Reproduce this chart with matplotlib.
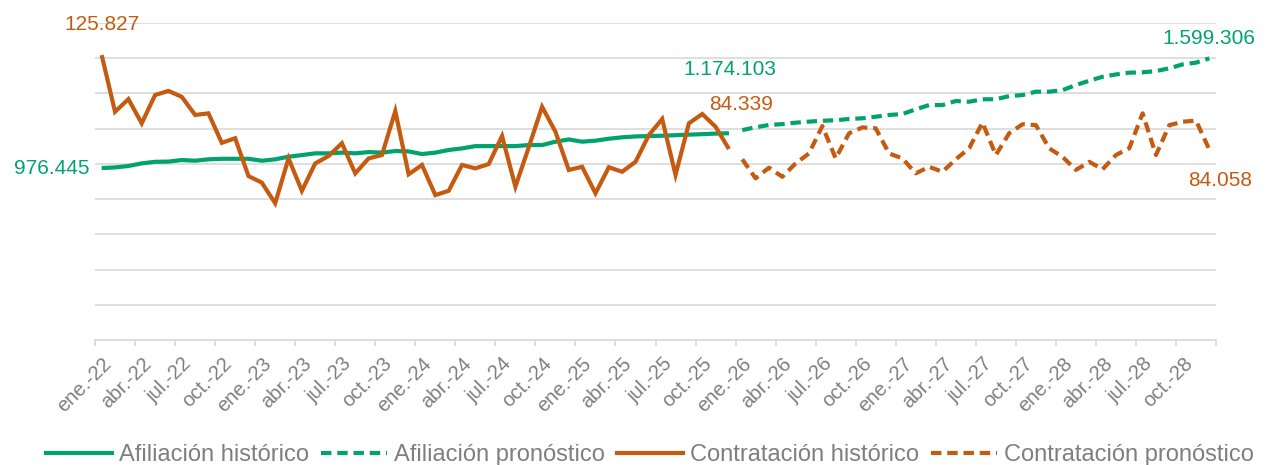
import matplotlib
matplotlib.use("Agg")
import matplotlib.pyplot as plt
from matplotlib.lines import Line2D

plt.rcParams["font.family"] = ["Liberation Sans", "DejaVu Sans"]

# monthly categories ene-22 .. dic-28
meses = ["ene.", "feb.", "mar.", "abr.", "may.", "jun.",
         "jul.", "ago.", "sep.", "oct.", "nov.", "dic."]
anios = ["22", "23", "24", "25", "26", "27", "28"]
categorias = [m + "-" + a for a in anios for m in meses]

afil_hist = [976445, 980000, 988000, 1003000, 1012000, 1013000, 1022000, 1018000,
             1026000, 1029000, 1029000, 1029000, 1018000, 1026000, 1041000, 1050000,
             1060000, 1060000, 1064000, 1060000, 1067000, 1064000, 1073000, 1071000,
             1056000, 1064000, 1079000, 1088000, 1101000, 1101000, 1101000, 1101000,
             1107000, 1107000, 1126000, 1139000, 1126000, 1132000, 1143000, 1151000,
             1156000, 1158000, 1160000, 1163000, 1166000, 1169000, 1172000, 1174103]
afil_pron = [1192000, 1208000, 1221000, 1226000, 1234000, 1240000, 1245000, 1248000,
             1255000, 1259000, 1268000, 1278000, 1283000, 1310000, 1334000, 1334000,
             1357000, 1353000, 1367000, 1367000, 1385000, 1391000, 1410000, 1410000,
             1419000, 1448000, 1472000, 1495000, 1508000, 1518000, 1520000, 1527000,
             1543000, 1565000, 1575000, 1599306]

contr_hist = [125827, 100800, 106400, 95700, 108200, 110000, 107400, 99400,
              100100, 87100, 89100, 72400, 69500, 60400, 80200, 65900,
              78000, 81250, 86900, 73600, 80200, 81700, 101100, 73200,
              77300, 64000, 65900, 77300, 75800, 77700, 90100, 67700,
              85100, 103000, 92000, 75100, 76500, 64800, 76300, 74300,
              78700, 90500, 97600, 72900, 95700, 99800, 94200, 84339]
contr_pron = [79800, 71400, 76100, 72100, 78000, 82400, 94500, 80200,
              91300, 93900, 93500, 82400, 80200, 73600, 76500, 74300,
              79800, 84700, 96000, 81700, 91300, 95300, 94900, 84650,
              80900, 75100, 78700, 75400, 81700, 84700, 100100, 81700,
              94900, 96400, 96900, 84058]

verde = "#00A36E"
naranja = "#C55A11"
gris = "#7F7F7F"

n_hist = len(afil_hist)
x_hist = list(range(n_hist))
x_pron = list(range(n_hist, n_hist + len(afil_pron)))

fig = plt.figure(figsize=(12.72, 4.65), dpi=100)
ax = fig.add_axes([0.0747, 0.2688, 0.8813, 0.6817])
ax2 = ax.twinx()

lw = 3.0
dash = (2.5, 1.4)
ax.plot(x_hist, afil_hist, color=verde, lw=lw, solid_capstyle="butt", zorder=3)
ax.plot(x_pron, afil_pron, color=verde, lw=lw, ls=(0, dash), zorder=3)
ax2.plot(x_hist, contr_hist, color=naranja, lw=lw, solid_capstyle="butt",
         solid_joinstyle="miter", zorder=4)
ax2.plot(x_pron, contr_pron, color=naranja, lw=lw, ls=(0, dash), zorder=4)

ax.set_xlim(-0.5, len(categorias) - 0.5)
ax.set_ylim(0, 1800000)
ax2.set_ylim(0, 140000)
ax.set_yticks(range(0, 1800001, 200000))
ax.yaxis.grid(True, color="#D9D9D9", lw=1.2)
ax.set_axisbelow(True)
ax.tick_params(axis="y", left=False, labelleft=False)
ax2.tick_params(axis="y", right=False, labelright=False)

for a in (ax, ax2):
    for s in ("top", "right", "left", "bottom"):
        a.spines[s].set_visible(False)
ax.spines["bottom"].set_visible(True)
ax.spines["bottom"].set_color("#D9D9D9")
ax.spines["bottom"].set_linewidth(1.2)

# category labels every 3 months, tick marks on boundaries
ticks = list(range(0, len(categorias), 3))
ax.set_xticks(ticks)
ax.set_xticklabels([categorias[i] for i in ticks], rotation=45, ha="right",
                   va="top", rotation_mode="anchor", color=gris, fontsize=14.5)
ax.tick_params(axis="x", which="major", length=0, pad=10)
ax.set_xticks([i - 0.5 for i in range(0, len(categorias) + 1, 3)], minor=True)
ax.tick_params(axis="x", which="minor", length=4.5, color="#D9D9D9", width=1.2)

fs = 15
ax2.annotate("125.827", (0, contr_hist[0]), xytext=(0, 22), textcoords="offset points",
             ha="center", va="center", color=naranja, fontsize=fs)
ax.annotate("976.445", (0, afil_hist[0]), xytext=(-8.5, 0), textcoords="offset points",
            ha="right", va="center", color=verde, fontsize=fs)
ax.annotate("1.174.103", (n_hist - 1, afil_hist[-1]), xytext=(1, 46),
            textcoords="offset points", ha="center", va="center", color=verde, fontsize=fs)
ax2.annotate("84.339", (n_hist - 1, contr_hist[-1]), xytext=(9, 32),
             textcoords="offset points", ha="center", va="center", color=naranja, fontsize=fs)
ax.annotate("1.599.306", (x_pron[-1], afil_pron[-1]), xytext=(0, 14),
            textcoords="offset points", ha="center", va="center", color=verde, fontsize=fs)
ax2.annotate("84.058", (x_pron[-1], contr_pron[-1]), xytext=(8, -22),
             textcoords="offset points", ha="center", va="center", color=naranja, fontsize=fs)

handles = [
    Line2D([], [], color=verde, lw=lw),
    Line2D([], [], color=verde, lw=lw, ls=(0, dash)),
    Line2D([], [], color=naranja, lw=lw),
    Line2D([], [], color=naranja, lw=lw, ls=(0, dash)),
]
labels = ["Afiliación histórico", "Afiliación pronóstico",
          "Contratación histórico", "Contratación pronóstico"]
leg = fig.legend(handles, labels, loc="center", bbox_to_anchor=(0.511, 0.022),
                 ncol=4, frameon=False, fontsize=17, handlelength=2.8,
                 handletextpad=0.3, columnspacing=0.5, borderpad=0)
for t in leg.get_texts():
    t.set_color(gris)

fig.savefig("out.png", dpi=100)
